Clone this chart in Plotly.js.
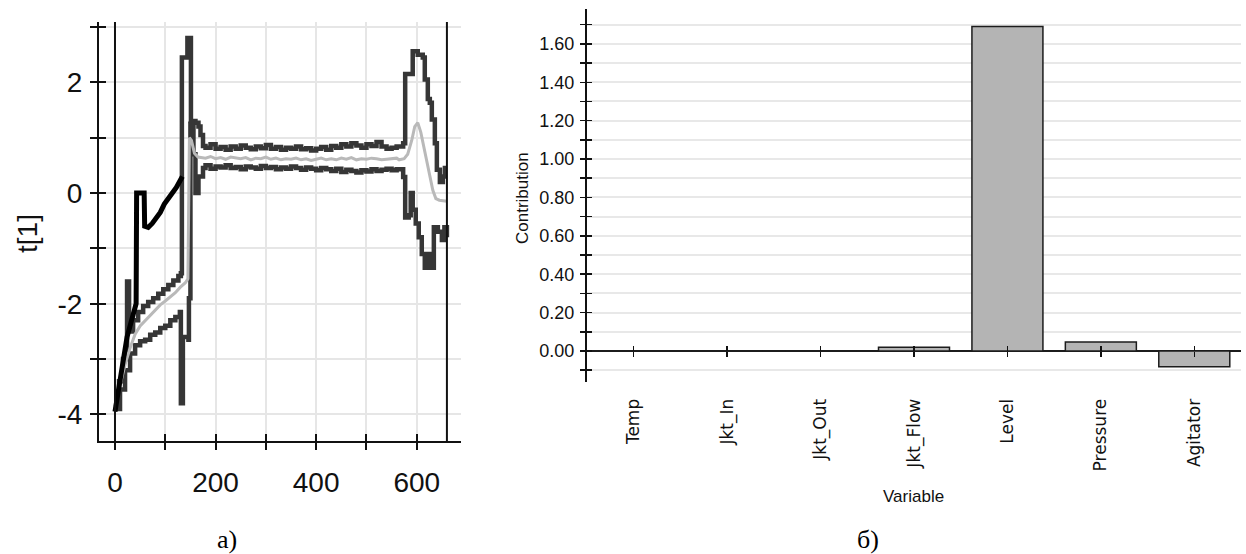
<!DOCTYPE html>
<html>
<head>
<meta charset="utf-8">
<script src="https://cdn.plot.ly/plotly-3.0.1.min.js"></script>
<style>html,body{margin:0;padding:0;background:#fff;}#chart{width:1246px;height:554px;}</style>
</head>
<body>
<div id="chart"></div>
<script>
// ---------- Left chart (a): score t[1] over time ----------
var upperT = [0,8,16,23,24,27,28,36,46,56,66,76,86,96,106,116,126,131,133,143,144,150,151,160,166,170,175,
  180,190,200,210,220,230,240,250,260,270,280,290,300,310,320,330,340,350,360,370,380,390,400,410,420,430,440,450,460,470,480,490,500,510,520,530,540,550,560,
  565,573,577,586,592,602,612,616,622,626,630,636,640,646,652,656,660];
var upperV = [-3.85,-3.4,-3.0,-2.8,-1.6,-1.6,-2.5,-2.3,-2.15,-2.04,-1.97,-1.9,-1.82,-1.74,-1.66,-1.58,-1.5,-1.45,2.45,2.45,2.8,2.8,1.3,1.27,1.2,1.05,0.85,
  0.82,0.88,0.8,0.83,0.78,0.84,0.8,0.86,0.82,0.79,0.84,0.81,0.87,0.8,0.83,0.78,0.82,0.8,0.84,0.79,0.81,0.77,0.8,0.83,0.78,0.85,0.82,0.88,0.84,0.9,0.86,0.82,0.88,0.85,0.92,0.84,0.8,0.82,0.84,
  0.84,0.9,2.15,2.15,2.56,2.5,2.45,2.05,1.7,1.63,1.33,0.9,0.42,0.2,0.3,0.45,0.45];

var lowerT = [0,10,20,30,40,50,60,70,80,90,100,110,120,129,131,133,135,146,147,149,150,153,156,160,166,175,
  180,190,200,210,220,230,240,250,260,270,280,290,300,310,320,330,340,350,360,370,380,390,400,410,420,430,440,450,460,470,480,490,500,510,520,530,540,550,560,
  565,573,577,584,588,592,598,604,610,616,624,630,634,642,650,655,660];
var lowerV = [-3.9,-3.55,-3.2,-2.9,-2.75,-2.68,-2.65,-2.56,-2.52,-2.44,-2.4,-2.3,-2.24,-2.15,-3.8,-3.8,-2.6,-2.65,-1.9,-1.9,1.25,1.2,0.7,0.0,0.3,0.45,
  0.5,0.44,0.48,0.46,0.5,0.45,0.47,0.43,0.48,0.46,0.44,0.49,0.45,0.47,0.43,0.46,0.44,0.48,0.45,0.42,0.46,0.44,0.41,0.45,0.43,0.4,0.44,0.38,0.42,0.4,0.37,0.41,0.39,0.43,0.4,0.42,0.44,0.41,0.43,
  0.43,0.29,-0.44,-0.4,0.0,-0.3,-0.55,-0.8,-1.1,-1.35,-1.1,-1.35,-0.62,-0.7,-0.85,-0.62,-0.8];

var meanT = [0,10,20,30,40,50,60,70,80,90,100,110,120,130,140,145,148,152,158,165,
  180,190,200,210,220,230,240,250,260,270,280,290,300,310,320,330,340,350,360,370,380,390,400,410,420,430,440,450,460,470,480,490,500,510,520,530,540,550,560,
  565,575,582,590,596,602,608,614,620,626,632,638,645,660];
var meanV = [-3.85,-3.45,-3.1,-2.8,-2.55,-2.4,-2.3,-2.2,-2.1,-2.02,-1.95,-1.87,-1.8,-1.7,-1.62,-1.55,1.0,0.95,0.72,0.65,
  0.63,0.66,0.62,0.64,0.61,0.65,0.63,0.62,0.64,0.6,0.63,0.62,0.65,0.61,0.63,0.6,0.62,0.61,0.63,0.6,0.62,0.59,0.61,0.63,0.6,0.62,0.6,0.63,0.61,0.64,0.6,0.62,0.61,0.63,0.62,0.6,0.61,0.62,0.63,
  0.6,0.62,0.7,0.95,1.2,1.27,1.1,0.85,0.6,0.35,0.05,-0.1,-0.13,-0.15];

var batchT = [0,6,12,18,24,30,36,42,43,58,59,66,74,82,90,98,106,114,122,130,134];
var batchV = [-3.95,-3.6,-3.2,-2.9,-2.6,-2.4,-2.15,-2.0,0.0,0.0,-0.6,-0.62,-0.55,-0.45,-0.35,-0.2,-0.08,0.0,0.1,0.22,0.3];

var boundaryT = [0, 660];
var tTickVals = [0,100,200,300,400,500,600];
var tTickText = ['0','','200','','400','','600'];
var scoreTickVals = [-4,-3,-2,-1,0,1,2,3];
var scoreTickText = ['-4','','-2','','0','','2',''];

// ---------- Right chart (б): contribution plot ----------
var variables = ['Temp','Jkt_In','Jkt_Out','Jkt_Flow','Level','Pressure','Agitator'];
var contributions = [0, 0, 0, 0.019, 1.69, 0.047, -0.082];
var contribTickVals = [-0.1,0,0.1,0.2,0.3,0.4,0.5,0.6,0.7,0.8,0.9,1.0,1.1,1.2,1.3,1.4,1.5,1.6,1.7];
var contribTickText = ['','0.00','','0.20','','0.40','','0.60','','0.80','','1.00','','1.20','','1.40','','1.60',''];
var varIndex = [0,1,2,3,4,5,6];

var W = 1246, H = 554;
var leftDom = [99/W, 461/W], leftYDom = [1-441/H, 1-22/H];
var rightDom = [587/W, 1241/W], rightYDom = [1-382/H, 1-9.3/H];
var tRange = [-31.8, 688], sRange = [-4.48, 3.09];
var cRange = [-0.1615, 1.78];
var zeroPos = 1 - 351/H;

var sans = 'Liberation Sans, Arial, sans-serif';
var dark = '#363636';

var traces = [
  {x: upperT, y: upperV, type:'scatter', mode:'lines', line:{color:dark, width:4.5, shape:'hv'}, xaxis:'x', yaxis:'y', hoverinfo:'skip'},
  {x: lowerT, y: lowerV, type:'scatter', mode:'lines', line:{color:dark, width:4.5, shape:'hv'}, xaxis:'x', yaxis:'y', hoverinfo:'skip'},
  {x: meanT, y: meanV, type:'scatter', mode:'lines', line:{color:'#b9b9b9', width:3, shape:'linear'}, xaxis:'x', yaxis:'y', hoverinfo:'skip'},
  {x: batchT, y: batchV, type:'scatter', mode:'lines', line:{color:'#000', width:5, shape:'linear'}, xaxis:'x', yaxis:'y', hoverinfo:'skip'},
  {x: variables, y: contributions, type:'bar', width:0.76, marker:{color:'#b4b4b4', line:{color:'#1c1c1c', width:1.5}}, xaxis:'x2', yaxis:'y2', hoverinfo:'skip'},
  // empty helper traces so that the tick-only twin axes get drawn
  {x: [], y: [], type:'scatter', mode:'lines', xaxis:'x3', yaxis:'y', hoverinfo:'skip'},
  {x: [], y: [], type:'scatter', mode:'lines', xaxis:'x', yaxis:'y3', hoverinfo:'skip'},
  {x: [], y: [], type:'scatter', mode:'lines', xaxis:'x2', yaxis:'y4', hoverinfo:'skip'},
  {x: [], y: [], type:'scatter', mode:'lines', xaxis:'x4', yaxis:'y2', hoverinfo:'skip'},
  {x: [], y: [], type:'scatter', mode:'lines', xaxis:'x5', yaxis:'y2', hoverinfo:'skip'}
];

var shapes = boundaryT.map(function(t){
  return {type:'line', xref:'x', yref:'paper', x0:t, x1:t, y0:leftYDom[0], y1:leftYDom[1], line:{color:'#111', width:2}, layer:'above'};
});

var layout = {
  width: W, height: H,
  margin: {l:0, r:0, t:0, b:0},
  paper_bgcolor:'#fff', plot_bgcolor:'#fff',
  showlegend:false,
  font:{family:sans, color:'#111'},
  xaxis: {domain:leftDom, range:tRange, anchor:'y', tickvals:tTickVals, ticktext:tTickText,
    showgrid:true, gridcolor:'#e6e6e6', gridwidth:2, zeroline:false,
    showline:true, linecolor:'#111', linewidth:2, ticks:'outside', ticklen:7, tickwidth:2, tickcolor:'#111',
    tickfont:{family:sans, size:28, color:'#111'}, ticklabelstandoff:8},
  yaxis: {domain:leftYDom, range:sRange, anchor:'x', tickvals:scoreTickVals, ticktext:scoreTickText,
    showgrid:true, gridcolor:'#e6e6e6', gridwidth:2, zeroline:false,
    showline:true, linecolor:'#111', linewidth:2, ticks:'outside', ticklen:7, tickwidth:2, tickcolor:'#111',
    tickfont:{family:sans, size:28, color:'#111'}, ticklabelstandoff:2},
  xaxis3: {overlaying:'x', anchor:'y', range:tRange, tickvals:tTickVals, showticklabels:false, showgrid:false, zeroline:false, showline:false,
    ticks:'inside', ticklen:7, tickwidth:2, tickcolor:'#111'},
  yaxis3: {overlaying:'y', anchor:'x', range:sRange, tickvals:scoreTickVals, showticklabels:false, showgrid:false, zeroline:false, showline:false,
    ticks:'inside', ticklen:7, tickwidth:2, tickcolor:'#111'},

  xaxis2: {domain:rightDom, range:[-0.5, 6.5], anchor:'y2', type:'category', tickangle:-90,
    showgrid:false, zeroline:false, showline:false, ticks:'outside', ticklen:9, tickcolor:'rgba(0,0,0,0)',
    tickfont:{family:'DejaVu Sans, sans-serif', size:17, color:'#111'}},
  yaxis2: {domain:rightYDom, range:cRange, anchor:'x2', tickvals:contribTickVals, ticktext:contribTickText,
    showgrid:true, gridcolor:'#e8e8e8', gridwidth:2, zeroline:true, zerolinecolor:'#1c1c1c', zerolinewidth:2,
    showline:true, linecolor:'#111', linewidth:2, ticks:'outside', ticklen:5, tickwidth:1.5, tickcolor:'#111',
    tickfont:{family:sans, size:18, color:'#111'}, ticklabelstandoff:2},
  yaxis4: {overlaying:'y2', anchor:'x2', range:cRange, tickvals:contribTickVals, showticklabels:false, showgrid:false, zeroline:false, showline:false,
    ticks:'inside', ticklen:5, tickwidth:1.5, tickcolor:'#111'},
  xaxis4: {overlaying:'x2', anchor:'free', position:zeroPos, range:[-0.5,6.5], type:'linear', tickvals:varIndex, showticklabels:false, showgrid:false, zeroline:false, showline:false,
    ticks:'outside', ticklen:5, tickwidth:1.5, tickcolor:'#111'},
  xaxis5: {overlaying:'x2', anchor:'free', position:zeroPos, range:[-0.5,6.5], type:'linear', tickvals:varIndex, showticklabels:false, showgrid:false, zeroline:false, showline:false,
    ticks:'inside', ticklen:5, tickwidth:1.5, tickcolor:'#111'},

  shapes: shapes,
  annotations: [
    {text:'t[1]', xref:'paper', yref:'paper', x:27/W, y:1-233/H, xanchor:'center', yanchor:'middle', textangle:-90, showarrow:false,
      font:{family:sans, size:28, color:'#111'}},
    {text:'Contribution', xref:'paper', yref:'paper', x:523/W, y:1-198/H, xanchor:'center', yanchor:'middle', textangle:-90, showarrow:false,
      font:{family:sans, size:17, color:'#111'}},
    {text:'Variable', xref:'paper', yref:'paper', x:913/W, y:1-496/H, xanchor:'center', yanchor:'middle', showarrow:false,
      font:{family:sans, size:17, color:'#111'}},
    {text:'а)', xref:'paper', yref:'paper', x:227/W, y:1-539/H, xanchor:'center', yanchor:'middle', showarrow:false,
      font:{family:'Liberation Serif, Times New Roman, serif', size:26, color:'#000'}},
    {text:'б)', xref:'paper', yref:'paper', x:868/W, y:1-539/H, xanchor:'center', yanchor:'middle', showarrow:false,
      font:{family:'Liberation Serif, Times New Roman, serif', size:26, color:'#000'}}
  ]
};

Plotly.newPlot('chart', traces, layout, {staticPlot:true, displayModeBar:false});
</script>
</body>
</html>
